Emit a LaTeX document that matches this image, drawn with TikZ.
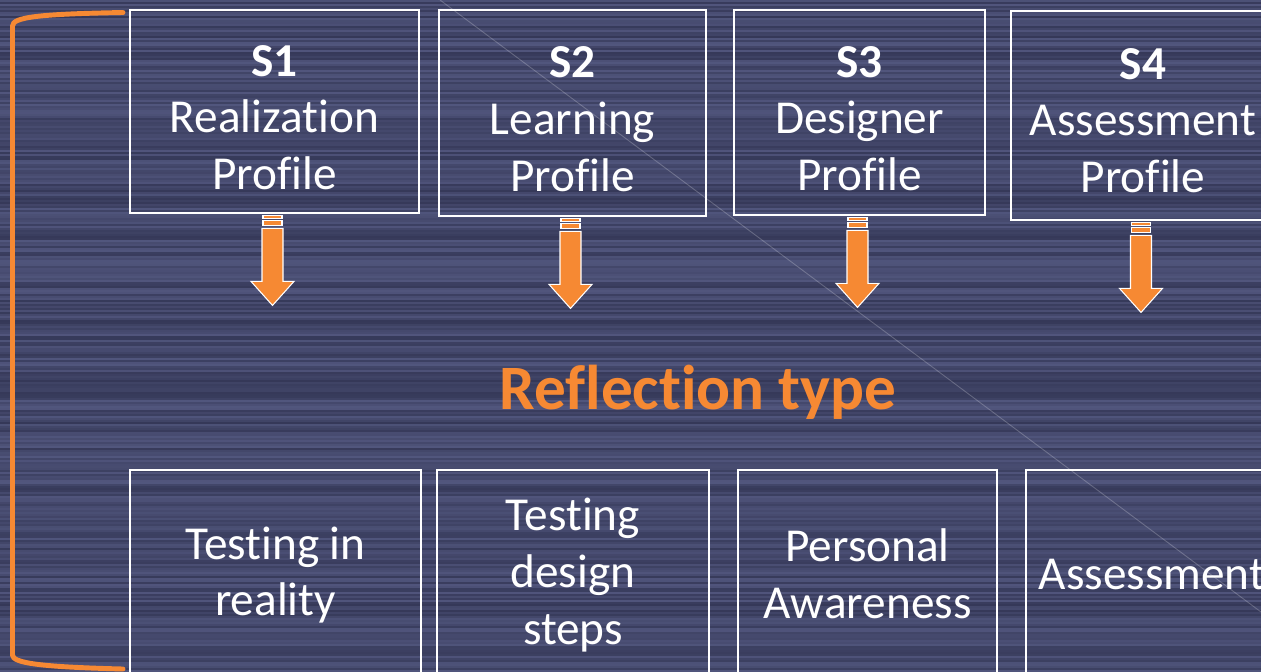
\documentclass[tikz,border=0pt]{standalone}
\usepackage{fontspec}
\setmainfont{Carlito}[Ligatures=NoCommon]
\usetikzlibrary{calc}
\definecolor{bgdark}{RGB}{47,50,80}
\definecolor{bglight}{RGB}{88,93,134}
\definecolor{orng}{RGB}{246,137,51}
\tikzset{
  box/.style={draw=white, line width=1.6pt, inner sep=0pt},
  boxtext/.style={align=center, text=white,
    font=\fontsize{26.9pt}{32.3pt}\selectfont, inner sep=0pt},
  arrowst/.style={fill=orng, draw=white, line width=0.6pt},
  bracket/.style={draw=orng, line width=2.8pt, line cap=round},
}
\newcommand\reflarrow[1]{%
  \begin{scope}[shift={($(#1.south)+(-2,0)$)}]
    \filldraw[arrowst] (-9.5,1.5) rectangle (9.5,4.5);
    \filldraw[arrowst] (-9.5,6.5) rectangle (9.5,11);
    \filldraw[arrowst] (-10.5,14) -- (10.5,14) -- (10.5,67) -- (21.5,67)
      -- (0,91) -- (-21.5,67) -- (-10.5,67) -- cycle;
  \end{scope}}
\begin{document}
\begin{tikzpicture}[x=0.02cm, y=-0.02cm]
\useasboundingbox (0,0) rectangle (1261,672);
\clip (0,0) rectangle (1261,672);
% striped background
\pgfmathsetseed{4711}
\foreach \i in {0,2,...,670}{
  \pgfmathsetmacro\p{int(15+70*rnd)}
  \fill[bglight!\p!bgdark] (0,\i) rectangle (1261,\i+2.2);
}
\draw[white, opacity=0.22, line width=0.5pt] (440,0) -- (1261,612);
% bracket
\draw[bracket] (123,12.5) .. controls (40,14) and (12.5,17) .. (12.5,26)
  -- (12.5,655) .. controls (12.5,663) and (40,667) .. (123,669);
% top boxes
\node[box, minimum width=289*0.02cm, minimum height=203*0.02cm] (s1) at (274.5,111.5) {};
\node[box, minimum width=267*0.02cm, minimum height=206*0.02cm] (s2) at (572.5,113) {};
\node[box, minimum width=251*0.02cm, minimum height=205*0.02cm] (s3) at (859.5,112.5) {};
\node[box, minimum width=264*0.02cm, minimum height=209*0.02cm] (s4) at (1143,115.5) {};
\node[boxtext] (s1t) at ($(s1)+(0,6)$) {\textbf{S1}\\Realization\\Profile};
\node[boxtext] (s2t) at ($(s2)+(0,6)$) {\textbf{S2}\\Learning\\Profile};
\node[boxtext] (s3t) at ($(s3)+(0,6)$) {\textbf{S3}\\Designer\\Profile};
\node[boxtext] (s4t) at ($(s4)+(0,5)$) {\textbf{S4}\\Assessment\\Profile};
% arrows
\reflarrow{s1}
\reflarrow{s2}
\reflarrow{s3}
\reflarrow{s4}
% title
\node[text=orng, font=\fontsize{36pt}{43pt}\selectfont\bfseries] (rt) at (698,392) {Reflection type};
% bottom boxes
\node[box, minimum width=291*0.02cm, minimum height=210*0.02cm] (b1) at (275.5,575) {};
\node[box, minimum width=272*0.02cm, minimum height=210*0.02cm] (b2) at (573,575) {};
\node[box, minimum width=259*0.02cm, minimum height=210*0.02cm] (b3) at (867.5,575) {};
\node[box, minimum width=252*0.02cm, minimum height=210*0.02cm] (b4) at (1152,575) {};
\node[boxtext] (b1t) at (b1) {Testing in\\reality};
\node[boxtext] (b2t) at (b2) {Testing\\design\\steps};
\node[boxtext] (b3t) at ($(b3)+(0,-1)$) {Personal\\Awareness};
\node[boxtext] (b4t) at (b4) {Assessment};
\end{tikzpicture}
\end{document}
